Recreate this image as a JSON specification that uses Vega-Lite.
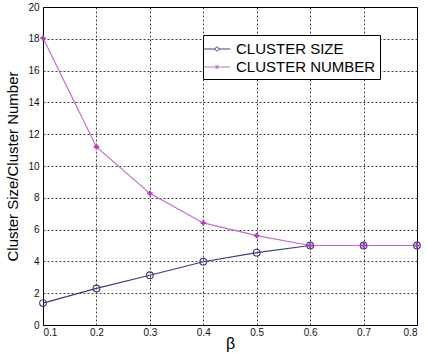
{
  "$schema": "https://vega.github.io/schema/vega-lite/v6.json",
  "autosize": "none",
  "width": 374,
  "height": 318,
  "padding": {"left": 43, "top": 7, "right": 10, "bottom": 28},
  "background": "white",
  "config": {
    "view": {"stroke": "#000", "strokeWidth": 1},
    "font": "Liberation Sans",
    "axis": {
      "labelFont": "Liberation Sans",
      "labelFontSize": 10,
      "labelColor": "#111",
      "titleFont": "Liberation Sans",
      "titleFontWeight": "normal",
      "titleColor": "#000",
      "domainColor": "#000",
      "ticks": false,
      "gridColor": "#000",
      "gridDash": [2, 2],
      "gridOpacity": 0.75,
      "gridWidth": 1
    }
  },
  "data": {
    "values": [
      {"beta": 0.1, "value": 1.38, "series": "CLUSTER SIZE"},
      {"beta": 0.2, "value": 2.3, "series": "CLUSTER SIZE"},
      {"beta": 0.3, "value": 3.13, "series": "CLUSTER SIZE"},
      {"beta": 0.4, "value": 3.98, "series": "CLUSTER SIZE"},
      {"beta": 0.5, "value": 4.55, "series": "CLUSTER SIZE"},
      {"beta": 0.6, "value": 5.0, "series": "CLUSTER SIZE"},
      {"beta": 0.7, "value": 5.0, "series": "CLUSTER SIZE"},
      {"beta": 0.8, "value": 5.0, "series": "CLUSTER SIZE"},
      {"beta": 0.1, "value": 18.05, "series": "CLUSTER NUMBER"},
      {"beta": 0.2, "value": 11.2, "series": "CLUSTER NUMBER"},
      {"beta": 0.3, "value": 8.28, "series": "CLUSTER NUMBER"},
      {"beta": 0.4, "value": 6.42, "series": "CLUSTER NUMBER"},
      {"beta": 0.5, "value": 5.62, "series": "CLUSTER NUMBER"},
      {"beta": 0.6, "value": 5.0, "series": "CLUSTER NUMBER"},
      {"beta": 0.7, "value": 5.0, "series": "CLUSTER NUMBER"},
      {"beta": 0.8, "value": 5.0, "series": "CLUSTER NUMBER"}
    ]
  },
  "encoding": {
    "x": {
      "field": "beta",
      "type": "quantitative",
      "scale": {"domain": [0.1, 0.8], "nice": false, "zero": false},
      "axis": {
        "values": [0.1, 0.2, 0.3, 0.4, 0.5, 0.6, 0.7, 0.8],
        "format": ".1f",
        "labelPadding": 2,
        "title": "β",
        "titleFontSize": 16,
        "titleY": 18,
        "titleBaseline": "middle"
      }
    },
    "y": {
      "field": "value",
      "type": "quantitative",
      "scale": {"domain": [0, 20], "nice": false},
      "axis": {
        "values": [0, 2, 4, 6, 8, 10, 12, 14, 16, 18, 20],
        "labelPadding": 4,
        "title": "Cluster Size/Cluster Number",
        "titleFontSize": 15,
        "titleX": -31,
        "titleY": 159,
        "titleAngle": -90,
        "titleAlign": "center",
        "titleBaseline": "middle"
      }
    }
  },
  "layer": [
    {
      "mark": {"type": "line", "strokeWidth": 1.2},
      "encoding": {
        "color": {
          "field": "series",
          "type": "nominal",
          "scale": {"domain": ["CLUSTER SIZE", "CLUSTER NUMBER"], "range": ["#3c3c7c", "#c070c4"]},
          "legend": {
            "title": null,
            "orient": "none",
            "legendX": 160,
            "legendY": 28,
            "fillColor": "white",
            "strokeColor": "#000",
            "padding": 4,
            "labelFont": "Liberation Sans",
            "labelFontSize": 15,
            "labelColor": "#000",
            "symbolSize": 361,
            "symbolStrokeWidth": 1,
            "rowPadding": 0,
            "labelOffset": 9,
            "encode": {
              "symbols": {
                "update": {
                  "shape": {"signal": "datum.value === 'CLUSTER SIZE' ? 'M-1.4,0L-0.2,0M0.2,0L1.4,0M-0.2,0A0.2,0.2 0 1,0 0.2,0A0.2,0.2 0 1,0 -0.2,0' : 'M-1.4,0L1.4,0M-0.17,-0.17L0.17,0.17M-0.17,0.17L0.17,-0.17M0,-0.22L0,0.22'"},
                  "fill": {"value": "transparent"},
                  "strokeWidth": {"value": 1}
                }
              }
            }
          }
        }
      }
    },
    {
      "transform": [{"filter": "datum.series === 'CLUSTER SIZE'"}],
      "mark": {"type": "point", "shape": "circle", "filled": false, "color": "#3c3c7c", "size": 45, "strokeWidth": 1.1, "opacity": 1}
    },
    {
      "transform": [{"filter": "datum.series === 'CLUSTER NUMBER'"}],
      "mark": {"type": "point", "shape": "cross", "filled": true, "color": "#b040b8", "size": 28, "opacity": 1}
    }
  ]
}
